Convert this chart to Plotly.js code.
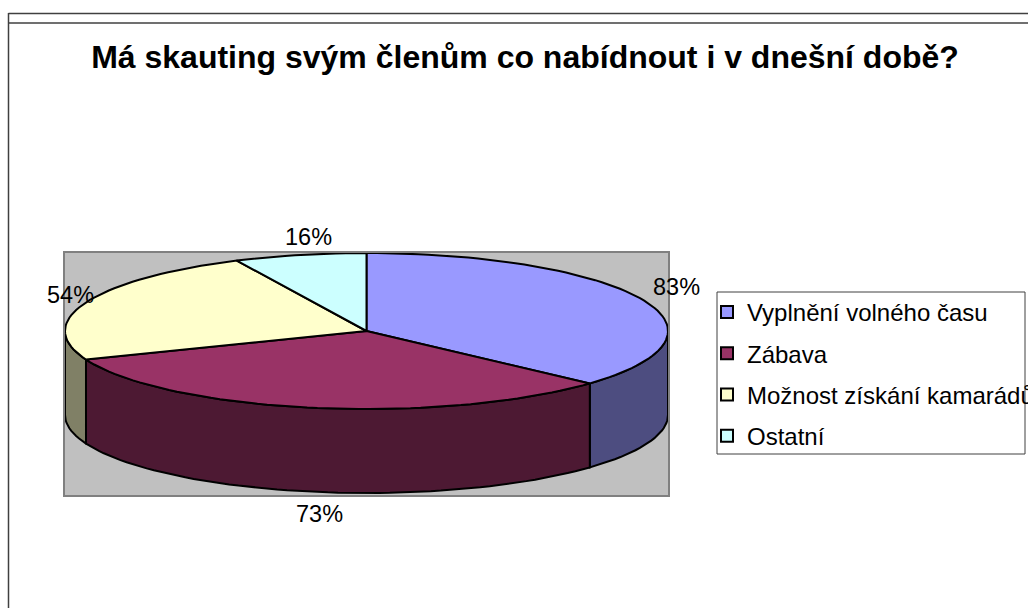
<!DOCTYPE html>
<html>
<head>
<meta charset="utf-8">
<script src="https://cdn.plot.ly/plotly-3.0.1.min.js"></script>
<style>html,body{margin:0;padding:0;background:#fff;overflow:hidden}</style>
</head>
<body>
<div id="chart" style="width:1028px;height:608px"></div>
<script>
var categories = ["Vyplnění volného času", "Zábava", "Možnost získání kamarádů", "Ostatní"];
var values = [83, 73, 54, 16];
var labels = ["83%", "73%", "54%", "16%"];
var topColors = ["#9999FF", "#993366", "#FFFFCC", "#CCFFFF"];
var sideColors = ["#4D4D80", "#4D1933", "#808066", "#668080"];
var labelShiftX = [34, 7, -15, 9];
var labelShiftY = [12, -22, 7, 18];

var W = 1028, H = 608, L = 65, R = 668, T = 253, B = 495, RY = 78, CY = 331;
var depth = 84 / RY;
var yMin = -(B - CY) / RY, yMax = (CY - T) / RY;
var total = values.reduce(function (a, b) { return a + b; }, 0);
function px(x) { return (x - L) / (R - L); }
function py(y) { return (B - y) / (B - T); }
function ex(a) { return Math.sin(a * Math.PI / 180); }
function ey(a) { return Math.cos(a * Math.PI / 180); }
function arc(a0, a1, dz) {
  var xs = [], ys = [], n = Math.max(2, Math.ceil(Math.abs(a1 - a0) / 2));
  for (var i = 0; i <= n; i++) {
    var a = a0 + (a1 - a0) * i / n;
    xs.push(ex(a)); ys.push(ey(a) - dz);
  }
  return { x: xs, y: ys };
}
var edge = { color: "#000000", width: 2 };
var sides = [], tops = [], legendTraces = [], annos = [];
var start = 0;
values.forEach(function (v, i) {
  var end = start + v / total * 360;
  var a0 = Math.max(start, 90), a1 = Math.min(end, 270);
  if (a1 > a0) {
    var up = arc(a0, a1, 0), down = arc(a1, a0, depth);
    sides.push({
      type: "scatter", mode: "lines", fill: "toself", fillcolor: sideColors[i], line: edge,
      x: up.x.concat(down.x, [up.x[0]]), y: up.y.concat(down.y, [up.y[0]]),
      showlegend: false, cliponaxis: false, hoverinfo: "skip"
    });
  }
  var t = arc(start, end, 0);
  tops.push({
    type: "scatter", mode: "lines", fill: "toself", fillcolor: topColors[i], line: edge,
    x: [0].concat(t.x, [0]), y: [0].concat(t.y, [0]),
    showlegend: false, cliponaxis: false, hoverinfo: "skip"
  });
  legendTraces.push({
    type: "scatter", mode: "markers", name: categories[i], legendgroup: "g" + i,
    x: [null], y: [null],
    marker: { symbol: "square", size: 12, color: topColors[i], line: { color: "#000000", width: 2 } }
  });
  var mid = (start + end) / 2;
  annos.push({
    x: ex(mid), y: ey(mid) - (mid > 90 && mid < 270 ? depth : 0), xref: "x", yref: "y",
    text: labels[i], showarrow: false, xanchor: "center", yanchor: "middle",
    xshift: labelShiftX[i], yshift: labelShiftY[i],
    font: { family: "Liberation Sans, Arial, sans-serif", size: 23.5, color: "#000000" }
  });
  start = end;
});
var frame = "#404040";
var shapes = [
  { type: "line", xref: "paper", yref: "paper", x0: px(8.5), x1: px(W), y0: py(13.5), y1: py(13.5), line: { color: frame, width: 1.5 } },
  { type: "line", xref: "paper", yref: "paper", x0: px(8.5), x1: px(W), y0: py(23), y1: py(23), line: { color: frame, width: 1.5 } },
  { type: "line", xref: "paper", yref: "paper", x0: px(8.5), x1: px(8.5), y0: py(13), y1: py(H), line: { color: frame, width: 1.5 } },
  { type: "rect", xref: "paper", yref: "paper", x0: px(717), x1: px(1025), y0: py(292), y1: py(454), line: { color: "#404040", width: 1 }, fillcolor: "rgba(0,0,0,0)" }
];
var layout = {
  width: W, height: H, autosize: false,
  margin: { l: L, r: W - R, t: T, b: H - B, pad: 0, autoexpand: false },
  paper_bgcolor: "#FFFFFF", plot_bgcolor: "#C0C0C0",
  title: {
    text: "<b>Má skauting svým členům co nabídnout i v dnešní době?</b>",
    x: 525 / W, xanchor: "center", xref: "container",
    y: 1 - 57 / H, yanchor: "middle", yref: "container",
    font: { family: "Liberation Sans, Arial, sans-serif", size: 32, color: "#000000" }
  },
  xaxis: { range: [-1, 1], visible: true, showgrid: false, zeroline: false, showticklabels: false, ticks: "", showline: true, mirror: true, linecolor: "#808080", linewidth: 2, fixedrange: true },
  yaxis: { range: [yMin, yMax], visible: true, showgrid: false, zeroline: false, showticklabels: false, ticks: "", showline: true, mirror: true, linecolor: "#808080", linewidth: 2, fixedrange: true },
  showlegend: true,
  legend: {
    x: px(707), y: py(290), xanchor: "left", yanchor: "top",
    bgcolor: "rgba(0,0,0,0)", borderwidth: 0, maxheight: 300,
    traceorder: "grouped", tracegroupgap: 7, entrywidth: 278, entrywidthmode: "pixels",
    itemclick: false, itemdoubleclick: false,
    font: { family: "Liberation Sans, Arial, sans-serif", size: 24, color: "#000000" }
  },
  shapes: shapes,
  annotations: annos
};
Plotly.newPlot("chart", sides.concat(tops, legendTraces), layout, { displayModeBar: false, staticPlot: true });
</script>
</body>
</html>
